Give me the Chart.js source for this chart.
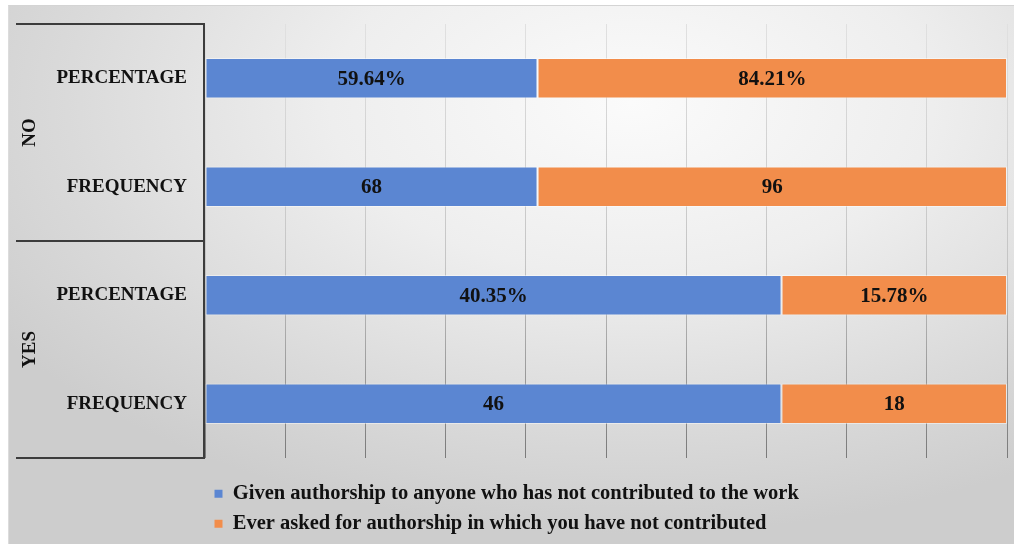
<!DOCTYPE html>
<html>
<head>
<meta charset="utf-8">
<script src="https://cdn.jsdelivr.net/npm/chart.js@4.4.1/dist/chart.umd.min.js"></script>
<style>
  html, body { margin: 0; padding: 0; background: #ffffff; }
  #wrap { position: relative; width: 1014px; height: 544px; overflow: hidden; }
  #frame {
    position: absolute; left: 8px; top: 5px; right: 0; bottom: 0;
    border-top: 1px solid #d4d4d4; border-left: 1px solid #dcdcdc;
    background: radial-gradient(ellipse 75% 80% at 62% 18%, #fbfbfb 0%, #eeeeee 40%, #dadada 75%, #cdcdcd 100%);
  }
  #chart { position: absolute; left: 0; top: 0; }
</style>
</head>
<body>
<div id="wrap">
  <div id="frame"></div>
  <canvas id="chart" width="1014" height="544"></canvas>
</div>
<script>
"use strict";

// 두 단계 범주: 그룹(NO / YES) 아래 행 두 개씩
const GROUPS = ["NO", "YES"];
const GROUP_SIZE = 2;
const ROW_LABELS = ["PERCENTAGE", "FREQUENCY", "PERCENTAGE", "FREQUENCY"];

const SERIES_NAMES = [
  "Given authorship to anyone who has not contributed to the work",
  "Ever asked for authorship in which you have not contributed",
];
const GIVEN_VALUES = [59.64, 68, 40.35, 46];
const ASKED_VALUES = [84.21, 96, 15.78, 18];

const X_TICKS_STEP = 10;

const BLUE = "#5b86d2";
const ORANGE = "#f28d4b";
const SERIF = "'Liberation Serif', 'Times New Roman', serif";

// 100% 누적: 각 행 합계 대비 비율
function shares(values, other) {
  return values.map((v, i) => (v / (v + other[i])) * 100);
}

function fmtValue(v, i) {
  return ROW_LABELS[i] === "PERCENTAGE" ? `${v.toFixed(2)}%` : String(v);
}

const rawBySeries = [GIVEN_VALUES, ASKED_VALUES];

// 막대 가운데에 원래 값 표시
const valueLabels = {
  id: "valueLabels",
  afterDatasetsDraw(chart) {
    const ctx = chart.ctx;
    ctx.save();
    ctx.font = `bold 21px ${SERIF}`;
    ctx.fillStyle = "#111";
    ctx.textAlign = "center";
    ctx.textBaseline = "middle";
    chart.data.datasets.forEach((ds, di) => {
      chart.getDatasetMeta(di).data.forEach((bar, i) => {
        const { x, base, y } = bar.getProps(["x", "base", "y"], true);
        ctx.fillText(fmtValue(rawBySeries[di][i], i), (x + base) / 2, y + 1);
      });
    });
    ctx.restore();
  },
};

// 엑셀식 다단계 축: 그룹 구분선과 세로 그룹 라벨
const groupAxis = {
  id: "groupAxis",
  afterDraw(chart) {
    const ctx = chart.ctx;
    const y = chart.scales.y;
    const area = chart.chartArea;
    const lineX = area.left - 1;
    const startX = 16;
    const half = (y.getPixelForValue(1) - y.getPixelForValue(0)) / 2;

    ctx.save();
    ctx.strokeStyle = "#3c3c3c";
    ctx.lineWidth = 2;
    ctx.beginPath();
    ctx.moveTo(lineX, area.top);
    ctx.lineTo(lineX, area.bottom);
    for (let g = 0; g <= GROUPS.length; g++) {
      const idx = g * GROUP_SIZE;
      const py = g === GROUPS.length
        ? y.getPixelForValue(idx - 1) + half
        : y.getPixelForValue(idx) - half;
      ctx.moveTo(startX, py);
      ctx.lineTo(lineX + 1, py);
    }
    ctx.stroke();

    ctx.font = `bold 19px ${SERIF}`;
    ctx.fillStyle = "#111";
    ctx.textAlign = "center";
    ctx.textBaseline = "middle";
    GROUPS.forEach((name, g) => {
      const first = y.getPixelForValue(g * GROUP_SIZE) - half;
      const last = y.getPixelForValue(g * GROUP_SIZE + GROUP_SIZE - 1) + half;
      ctx.save();
      ctx.translate(30, (first + last) / 2);
      ctx.rotate(-Math.PI / 2);
      ctx.fillText(name, 0, 0);
      ctx.restore();
    });
    ctx.restore();
  },
};

let gridGradient = null;
function gridColor(c) {
  const area = c.chart.chartArea;
  if (!area) return "#cccccc";
  if (!gridGradient) {
    gridGradient = c.chart.ctx.createLinearGradient(0, area.top, 0, area.bottom);
    gridGradient.addColorStop(0, "#e0e0e0");
    gridGradient.addColorStop(0.55, "#c4c4c4");
    gridGradient.addColorStop(1, "#7a7a7a");
  }
  return gridGradient;
}

new Chart(document.getElementById("chart"), {
  type: "bar",
  data: {
    labels: ROW_LABELS,
    datasets: [
      {
        label: SERIES_NAMES[0],
        data: shares(GIVEN_VALUES, ASKED_VALUES),
        backgroundColor: BLUE,
        borderColor: "rgba(255,255,255,0.45)",
        borderWidth: 1,
        borderSkipped: false,
      },
      {
        label: SERIES_NAMES[1],
        data: shares(ASKED_VALUES, GIVEN_VALUES),
        backgroundColor: ORANGE,
        borderColor: "rgba(255,255,255,0.45)",
        borderWidth: 1,
        borderSkipped: false,
      },
    ],
  },
  options: {
    indexAxis: "y",
    responsive: false,
    animation: false,
    datasets: { bar: { barPercentage: 0.375, categoryPercentage: 1 } },
    layout: { padding: { top: 24, right: 7, bottom: 0, left: 0 } },
    scales: {
      x: {
        stacked: true,
        min: 0,
        max: 100,
        ticks: { display: false, stepSize: X_TICKS_STEP },
        grid: { color: gridColor, drawTicks: false },
        border: { display: false },
        afterFit: (s) => { s.height = 16; },
      },
      y: {
        stacked: true,
        grid: { display: false },
        border: { display: false },
        ticks: { color: "#111", font: { family: SERIF, size: 19, weight: "bold" }, padding: 10 },
        afterFit: (s) => { s.width = 205; },
      },
    },
    plugins: {
      tooltip: { enabled: false },
      legend: {
        position: "bottom",
        align: "start",
        fullSize: false,
        labels: {
          color: "#111",
          font: { family: SERIF, size: 20.5, weight: "bold" },
          boxWidth: 8,
          boxHeight: 8,
          padding: 9.5,
          generateLabels: (chart) =>
            Chart.defaults.plugins.legend.labels
              .generateLabels(chart)
              .map((l) => ({ ...l, lineWidth: 0 })),
        },
      },
    },
  },
  plugins: [valueLabels, groupAxis],
});
</script>
</body>
</html>
